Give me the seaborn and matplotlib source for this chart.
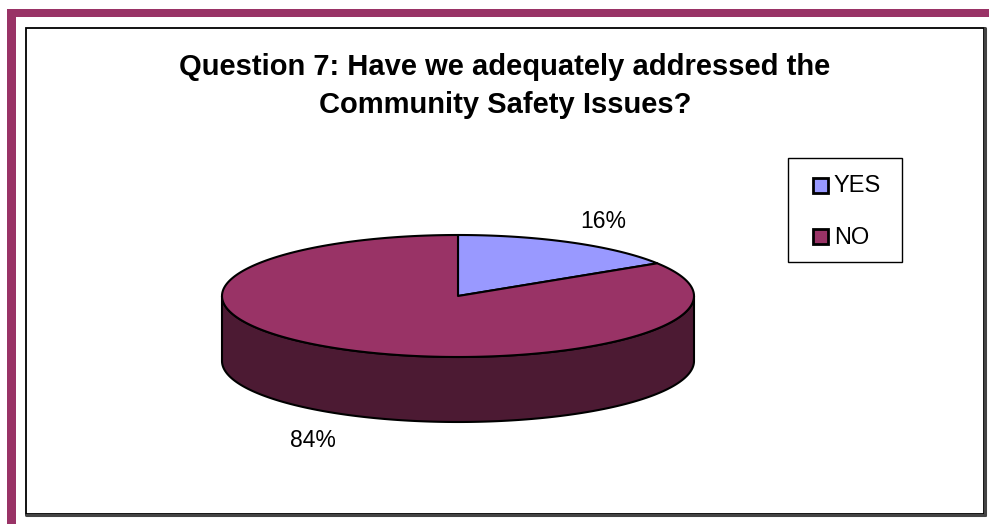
import numpy as np
import matplotlib
matplotlib.use("Agg")
import matplotlib.pyplot as plt
from matplotlib.patches import Polygon, Rectangle
import seaborn as sns

# ---- data ----
categories = ["YES", "NO"]
values = [16, 84]
pct_labels = ["16%", "84%"]
title_text = "Question 7: Have we adequately addressed the\nCommunity Safety Issues?"

sns.set_theme(style="white")
plt.rcParams['font.family'] = ['Liberation Sans', 'DejaVu Sans']
top_colors = sns.color_palette(["#9999FF", "#993366"])
side_colors = sns.color_palette(["#4D4D80", "#4C1A33"])

fig = plt.figure(figsize=(9.89, 5.24), dpi=100)
ax = fig.add_axes([0, 0, 1, 1])
ax.set_xlim(0, 989)
ax.set_ylim(524, 0)
ax.axis('off')

# decorative page frame
ax.add_patch(Rectangle((7, 9), 982, 8, color="#993366", lw=0))
ax.add_patch(Rectangle((7, 9), 9, 515, color="#993366", lw=0))
ax.add_patch(Rectangle((26, 28), 958, 486, fill=False, ec='black', lw=1.3))
ax.plot([984.5, 984.5], [28, 515], color='#444444', lw=2.2)
ax.plot([26, 985], [514.5, 514.5], color='#444444', lw=2.2)

# 3D pie geometry
cx, cy, a, b, depth = 458, 296, 236, 61, 65


def pt(theta_deg, dy=0.0):
    t = np.radians(theta_deg)
    return (cx + a * np.sin(t), cy - b * np.cos(t) + dy)


fracs = np.array(values, dtype=float) / sum(values)
bounds = np.concatenate([[0.0], np.cumsum(fracs) * 360.0])

# sides (front half only)
for i in range(len(values)):
    s, e = bounds[i], bounds[i + 1]
    lo, hi = max(s, 90.0), min(e, 270.0)
    if hi > lo:
        th = np.linspace(lo, hi, 200)
        top = [pt(t) for t in th]
        bot = [pt(t, depth) for t in th[::-1]]
        ax.add_patch(Polygon(top + bot, closed=True, fc=side_colors[i],
                             ec='black', lw=1.5, joinstyle='round'))

# top faces
for i in range(len(values)):
    s, e = bounds[i], bounds[i + 1]
    th = np.linspace(s, e, 300)
    pts = [(cx, cy)] + [pt(t) for t in th]
    ax.add_patch(Polygon(pts, closed=True, fc=top_colors[i],
                         ec='black', lw=1.5, joinstyle='round'))

# percentage labels
for i in range(len(values)):
    mid = np.radians((bounds[i] + bounds[i + 1]) / 2)
    lx = cx + a * 1.28 * np.sin(mid)
    c = np.cos(mid)
    ly = cy - b * (1.4 if c > 0 else 1.49) * c + (depth if c < 0 else 0)
    ax.text(lx, ly, pct_labels[i], ha='center', va='center', fontsize=16.5, color='black')

# title
ax.text(505, 86, title_text, ha='center', va='center', fontsize=21,
        fontweight='bold', color='black', linespacing=1.42)

# legend (drawn as a box with swatches)
ax.add_patch(Rectangle((788, 158), 114, 104, fill=False, ec='black', lw=1.0))
row_y = [185, 236]
for i, cat in enumerate(categories):
    ax.add_patch(Rectangle((813, row_y[i] - 7.5), 15, 15, fc=top_colors[i],
                           ec='black', lw=2.0))
    ax.text(834, row_y[i] + 1.5, cat, ha='left', va='center', fontsize=17, color='black')

fig.savefig("out.png", dpi=100)
